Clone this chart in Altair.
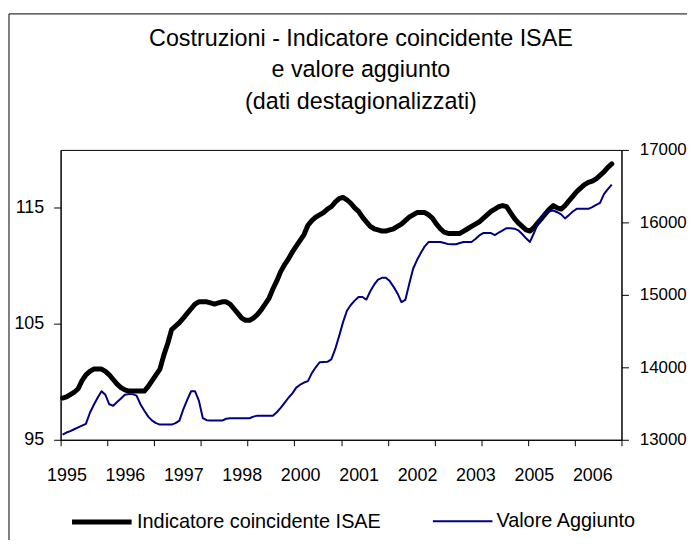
import altair as alt
import pandas as pd

# Monthly data, Jan 1995 - Oct 2006
isae = [
    98.6, 98.7, 98.9, 99.1, 99.4, 100.1, 100.6, 100.9, 101.1, 101.1, 101.1, 100.9,
    100.6, 100.2, 99.8, 99.5, 99.3, 99.2, 99.2, 99.2, 99.2, 99.2, 99.6, 100.1,
    100.6, 101.1, 102.3, 103.3, 104.5, 104.8, 105.1, 105.5, 105.9, 106.3, 106.7, 106.9,
    106.9, 106.9, 106.8, 106.7, 106.8, 106.9, 106.9, 106.7, 106.3, 105.9, 105.5, 105.3,
    105.3, 105.5, 105.8, 106.2, 106.7, 107.2, 108.0, 108.7, 109.5, 110.1, 110.6, 111.2,
    111.7, 112.2, 112.7, 113.5, 113.9, 114.2, 114.4, 114.6, 114.9, 115.1, 115.5, 115.8,
    115.9, 115.7, 115.4, 115.0, 114.7, 114.2, 113.8, 113.4, 113.2, 113.1, 113.0, 113.0,
    113.1, 113.2, 113.4, 113.6, 113.9, 114.2, 114.4, 114.6, 114.6, 114.6, 114.4, 114.1,
    113.6, 113.2, 112.9, 112.8, 112.8, 112.8, 112.8, 113.0, 113.2, 113.4, 113.6, 113.8,
    114.1, 114.4, 114.7, 114.9, 115.1, 115.2, 115.1, 114.6, 114.1, 113.7, 113.4, 113.1,
    113.0, 113.3, 113.7, 114.1, 114.5, 114.9, 115.2, 115.0, 114.9, 115.2, 115.6, 116.0,
    116.4, 116.7, 117.0, 117.2, 117.3, 117.5, 117.8, 118.1, 118.5, 118.8,
]

valore = [
    13070, 13100, 13120, 13145, 13170, 13195, 13220, 13370, 13480, 13580, 13670, 13620,
    13490, 13470, 13520, 13570, 13620, 13630, 13630, 13610, 13490, 13400, 13320, 13265,
    13230, 13210, 13210, 13210, 13210, 13230, 13265, 13420, 13550, 13670, 13670, 13540,
    13300, 13270, 13265, 13265, 13265, 13265, 13290, 13297, 13297, 13297, 13297, 13297,
    13297, 13320, 13333, 13333, 13333, 13333, 13333, 13380, 13440, 13510, 13580, 13640,
    13720, 13760, 13790, 13810, 13920, 14000, 14070, 14073, 14075, 14110, 14250, 14430,
    14620, 14780, 14860, 14920, 14970, 14970, 14935, 15050, 15140, 15210, 15235, 15237,
    15190, 15110, 15020, 14900, 14930, 15150, 15360, 15480, 15580, 15670, 15730, 15730,
    15730, 15730, 15715, 15700, 15699, 15699, 15715, 15730, 15730, 15730, 15770, 15820,
    15853, 15853, 15853, 15825, 15860, 15890, 15920, 15920, 15913, 15890, 15840, 15780,
    15730, 15850, 15980, 16080, 16130, 16155, 16164, 16140, 16110, 16055, 16100, 16150,
    16187, 16187, 16187, 16187, 16210, 16240, 16270, 16390, 16460, 16521,
]

year_labels = ["1995", "1996", "1997", "1998", "2000", "2001", "2002", "2003", "2005", "2006"]
left_ticks = [95, 105, 115]
right_ticks = [13000, 14000, 15000, 16000, 17000]

S1 = "Indicatore coincidente ISAE"
S2 = "Valore Aggiunto"

N_CAT = 144  # category slots on the x axis (Jan 1995 - Dec 2006)
TICK_EVERY = 12
LABEL_EVERY = 15

pos = [i + 0.5 for i in range(len(isae))]
df1 = pd.DataFrame({"pos": pos, "value": isae, "series": S1})
df2 = pd.DataFrame({"pos": pos[: len(valore)], "value": valore, "series": S2})

tick_vals = list(range(0, N_CAT + 1, TICK_EVERY))
label_vals = [LABEL_EVERY * k + 1.5 for k in range(len(year_labels))]
arr = "[" + ",".join("'%s'" % y for y in year_labels) + "]"

x_axis = alt.Axis(
    values=tick_vals + label_vals,
    tickOpacity={"condition": {"test": "datum.value %% %d === 0" % TICK_EVERY, "value": 1}, "value": 0},
    labelExpr="datum.value %% %d === 0 ? '' : %s[floor(datum.value / %d)]" % (TICK_EVERY, arr, LABEL_EVERY),
    labelOverlap=False,
    labelFlush=False,
    tickSize=6,
    labelPadding=21,
    labelFontSize=18,
    title=None,
    grid=False,
)
x_enc = alt.X("pos:Q", scale=alt.Scale(domain=[0, N_CAT], nice=False, zero=False), axis=x_axis)

legend = alt.Legend(
    title=None,
    orient="none",
    legendX=9,
    legendY=342,
    direction="horizontal",
    symbolType="stroke",
    symbolSize=3600,
    labelFontSize=20,
    labelOffset=3,
    labelLimit=0,
    columnPadding=48,
    padding=0,
)

color_enc = alt.Color(
    "series:N",
    scale=alt.Scale(domain=[S1, S2], range=["#000000", "#000080"]),
    legend=legend,
)
sw_enc = alt.StrokeWidth(
    "series:N",
    scale=alt.Scale(domain=[S1, S2], range=[5, 2]),
    legend=legend,
)

line1 = alt.Chart(df1).mark_line(strokeJoin="round", strokeCap="round").encode(
    x=x_enc,
    y=alt.Y(
        "value:Q",
        scale=alt.Scale(domain=[95, 120], nice=False, zero=False),
        axis=alt.Axis(orient="left", values=left_ticks, tickSize=7, labelPadding=10,
                      labelFontSize=18, title=None, grid=False, format="d"),
    ),
    color=color_enc,
    strokeWidth=sw_enc,
)

line2 = alt.Chart(df2).mark_line(strokeJoin="round").encode(
    x=x_enc,
    y=alt.Y(
        "value:Q",
        scale=alt.Scale(domain=[13000, 17000], nice=False, zero=False),
        axis=alt.Axis(orient="right", values=right_ticks, tickSize=7, labelPadding=11,
                      labelFontSize=17, title=None, grid=False, format="d"),
    ),
    color=color_enc,
    strokeWidth=sw_enc,
)

frame = alt.Chart(pd.DataFrame({"a": [0]})).mark_rect(
    fill=None, stroke="black", strokeWidth=1
).encode(
    x=alt.value(-52), x2=alt.value(700), y=alt.value(-137), y2=alt.value(500)
)

chart = (
    alt.layer(line1, line2, frame)
    .resolve_scale(y="independent")
    .properties(
        width=565,
        height=292,
        autosize=alt.AutoSizeParams(type="none"),
        padding={"left": 53, "top": 141, "right": 66, "bottom": 99},
        title=alt.TitleParams(
            ["Costruzioni - Indicatore coincidente ISAE", "e valore aggiunto", "(dati destagionalizzati)"],
            fontSize=23.5,
            fontWeight="normal",
            font="Liberation Sans",
            lineHeight=32,
            anchor="middle",
            dx=20,
            offset=-101,
            color="black",
        ),
    )
    .configure(font="Liberation Sans")
    .configure_view(stroke="black", strokeWidth=1)
    .configure_axis(
        domainColor="black",
        tickColor="black",
        labelColor="black",
        domainWidth=1,
        tickWidth=1,
        labelFont="Liberation Sans",
    )
    .configure_legend(labelColor="black", labelFont="Liberation Sans")
)

chart.save("out.html", embed_options={"renderer": "svg", "actions": False})
